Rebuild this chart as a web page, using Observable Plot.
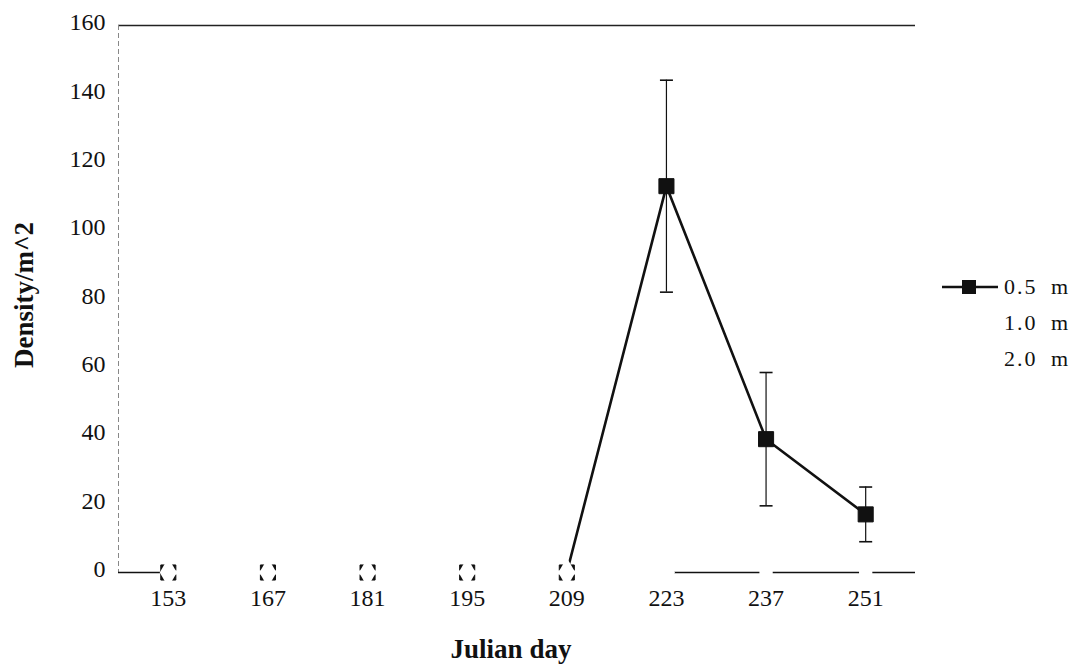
<!DOCTYPE html>
<html>
<head>
<meta charset="utf-8">
<script src="https://cdn.jsdelivr.net/npm/d3@7"></script>
<script src="https://cdn.jsdelivr.net/npm/@observablehq/plot@0.6"></script>
<style>
  html, body { margin: 0; padding: 0; background: #fff; }
  #wrap { position: relative; width: 1088px; height: 665px; font-family: "Liberation Serif", "Times New Roman", serif; }
  #legend { position: absolute; left: 940px; top: 269px; font-size: 22px; letter-spacing: 2px; word-spacing: 6px; color: #111; }
  #legend .row { display: flex; align-items: center; height: 36px; }
  #legend svg { display: block; margin-right: 4px; }
</style>
</head>
<body>
<div id="wrap"><div id="legend"></div></div>
<script>
// Sampling dates (Julian day) and mean densities per depth
const days = [153, 167, 181, 195, 209, 223, 237, 251];
const density05 = [0, 0, 0, 0, 0, 113, 39, 17];
const error05 = [0, 0, 0, 0, 0, 31, 19.5, 8];
const density10 = [0, 0, 0, 0, 0, 0, null, null];
const density20 = [null, null, null, null, null, null, 0, 0];
const yTicks = [0, 20, 40, 60, 80, 100, 120, 140, 160];
const seriesNames = ["0.5 m", "1.0 m", "2.0 m"];

const s05 = days.map((day, i) => ({day, v: density05[i], lo: density05[i] - error05[i], hi: density05[i] + error05[i], e: error05[i]}));
const s10 = days.map((day, i) => ({day, v: density10[i]})).filter(d => d.v != null);
const s20 = days.map((day, i) => ({day, v: density20[i]})).filter(d => d.v != null);
const withErr = s05.filter(d => d.e > 0);

// horizontal cap for error bars
const cap = {draw(ctx, size) { const w = Math.sqrt(size / Math.PI); ctx.moveTo(-w, 0); ctx.lineTo(w, 0); }};

const chart = Plot.plot({
  width: 1088,
  height: 665,
  marginLeft: 118,
  marginRight: 173,
  marginTop: 25,
  marginBottom: 93,
  style: {fontFamily: "'Liberation Serif', 'Times New Roman', serif", fontSize: "24px", color: "#111", background: "#fff"},
  x: {domain: [146, 258]},
  y: {domain: [0, 160]},
  marks: [
    Plot.axisX({ticks: days, tickSize: 0, tickPadding: 16, label: null, fontSize: 24, style: "letter-spacing:1px"}),
    Plot.axisY({ticks: yTicks, tickSize: 0, tickPadding: 13, label: null, fontSize: 24, dy: -3, style: "letter-spacing:2px"}),
    Plot.ruleY([160], {stroke: "#222", strokeWidth: 1.4}),
    Plot.ruleX([146], {stroke: "#888", strokeWidth: 1, strokeDasharray: "5,3"}),
    Plot.ruleY([0], {stroke: "#111", strokeWidth: 1.6}),
    // error bars for 0.5 m
    Plot.ruleX(withErr, {x: "day", y1: "lo", y2: "hi", stroke: "#111", strokeWidth: 1.2}),
    Plot.dot(withErr, {x: "day", y: "hi", symbol: cap, r: 6.5, stroke: "#111", strokeWidth: 1.6}),
    Plot.dot(withErr, {x: "day", y: "lo", symbol: cap, r: 6.5, stroke: "#111", strokeWidth: 1.6}),
    // 0.5 m series
    Plot.line(s05, {x: "day", y: "v", stroke: "#111", strokeWidth: 2.6}),
    Plot.dot(s05, {x: "day", y: "v", symbol: "square", r: 8.5, fill: "#111", stroke: "#111", strokeWidth: 1}),
    // 1.0 m series (white)
    Plot.line(s10, {x: "day", y: "v", stroke: "#fff", strokeWidth: 4}),
    Plot.dot(s10, {x: "day", y: "v", symbol: "diamond", r: 9, fill: "#fff"}),
    // 2.0 m series (white markers)
    Plot.dot(s20, {x: "day", y: "v", symbol: "square", r: 7.5, fill: "#fff"}),
    // axis titles
    Plot.text(["Julian day"], {frameAnchor: "bottom", dx: -6, dy: 85, fontSize: 27, fontWeight: "bold", fill: "#111"}),
    Plot.text(["Density/m^2"], {frameAnchor: "left", textAnchor: "middle", rotate: -90, dx: -94, dy: -4, fontSize: 27, fontWeight: "bold", fill: "#111"})
  ]
});
document.getElementById("wrap").prepend(chart);

// legend
const legend = d3.select("#legend");
seriesNames.forEach((name, i) => {
  const row = legend.append("div").attr("class", "row");
  const svg = row.append("svg").attr("width", 60).attr("height", 20);
  const col = i === 0 ? "#111" : "#fff";
  svg.append("line").attr("x1", 2).attr("x2", 58).attr("y1", 10).attr("y2", 10).attr("stroke", col).attr("stroke-width", 2.4);
  svg.append("rect").attr("x", 22).attr("y", 3).attr("width", 14).attr("height", 14).attr("fill", col);
  row.append("span").text(name);
});
</script>
</body>
</html>
